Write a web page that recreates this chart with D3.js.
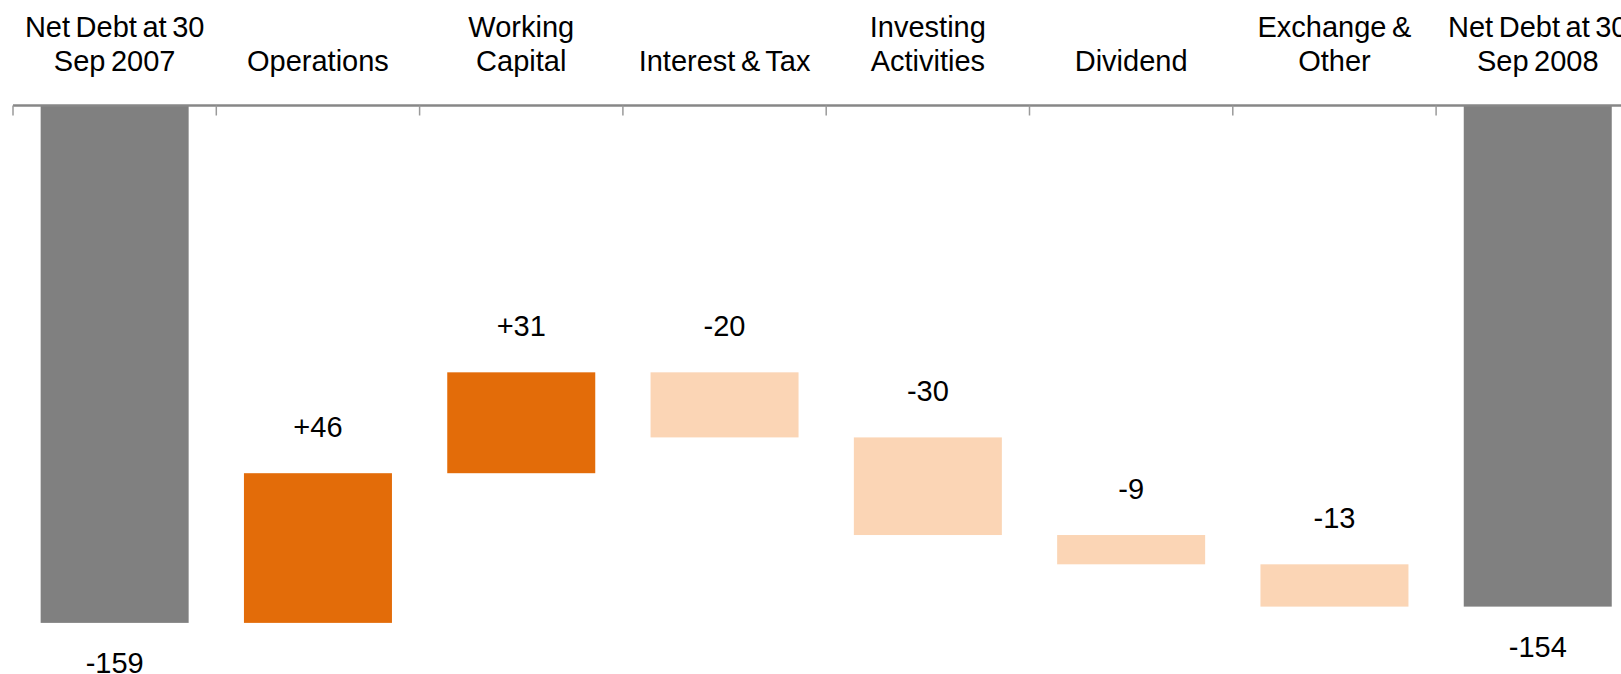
<!DOCTYPE html>
<html>
<head>
<meta charset="utf-8">
<script src="https://cdn.jsdelivr.net/npm/d3@7"></script>
<style>
  html, body { margin: 0; padding: 0; background: #fff; overflow: hidden; }
  svg { display: block; font-family: "Liberation Sans", Arial, sans-serif; }
</style>
</head>
<body>
<svg id="chart" width="1621" height="674"></svg>
<script>
// Net debt bridge, 30 Sep 2007 -> 30 Sep 2008
const categories = [
  ["Net Debt at 30", "Sep 2007"],
  ["Operations"],
  ["Working", "Capital"],
  ["Interest & Tax"],
  ["Investing", "Activities"],
  ["Dividend"],
  ["Exchange &", "Other"],
  ["Net Debt at 30", "Sep 2008"]
];
const kinds   = ["total", "delta", "delta", "delta", "delta", "delta", "delta", "total"];
const values  = [-159, 46, 31, -20, -30, -9, -13, -154];

const colors = { total: "#808080", up: "#E36C09", down: "#FBD5B5" };

const svg = d3.select("#chart");

// running totals give each bar its start and end
let running = 0;
const bars = values.map((v, i) => {
  let y0, y1;
  if (kinds[i] === "total") { y0 = 0; y1 = v; running = v; }
  else { y0 = running; y1 = running + v; running = y1; }
  return { i, v, kind: kinds[i], y0, y1, lines: categories[i] };
});

const x = d3.scaleBand()
  .domain(d3.range(categories.length))
  .range([13, 13 + 8 * 203.3])
  .paddingInner(0.272)
  .paddingOuter(0.136);

const y = d3.scaleLinear()
  .domain([0, -160])
  .range([105.5, 105.5 + 160 * 3.254]);

const step = x.step();
const left = x.range()[0];

// bars
svg.append("g").selectAll("rect")
  .data(bars)
  .enter().append("rect")
  .attr("x", d => x(d.i))
  .attr("width", x.bandwidth())
  .attr("y", d => Math.min(y(d.y0), y(d.y1)))
  .attr("height", d => Math.abs(y(d.y1) - y(d.y0)))
  .attr("fill", d => d.kind === "total" ? colors.total : (d.v > 0 ? colors.up : colors.down));

// category axis along the zero line, ticks between categories
const axis = svg.append("g");
axis.append("line")
  .attr("x1", left).attr("x2", 1621)
  .attr("y1", y(0)).attr("y2", y(0))
  .attr("stroke", "#878787").attr("stroke-width", 2.5);
axis.selectAll("line.tick")
  .data(d3.range(categories.length + 1))
  .enter().append("line")
  .attr("class", "tick")
  .attr("x1", k => left + k * step).attr("x2", k => left + k * step)
  .attr("y1", y(0)).attr("y2", y(0) + 10)
  .attr("stroke", "#9a9a9a").attr("stroke-width", 1.5);

// category names above the axis, bottom-aligned
const catText = svg.append("g").selectAll("text")
  .data(bars)
  .enter().append("text")
  .attr("text-anchor", "middle")
  .attr("font-size", 29)
  .attr("word-spacing", "-2.5px")
  .attr("fill", "#000");
catText.selectAll("tspan")
  .data(d => d.lines.map((t, j) => ({ t, j, n: d.lines.length, cx: x(d.i) + x.bandwidth() / 2 })))
  .enter().append("tspan")
  .attr("x", d => d.cx)
  .attr("y", d => 71 - (d.n - 1 - d.j) * 34.3)
  .text(d => d.t);

// value labels: changes above the bar, totals beneath it
const fmt = v => (v > 0 ? "+" : v < 0 ? "-" : "") + Math.abs(v);
svg.append("g").selectAll("text")
  .data(bars)
  .enter().append("text")
  .attr("text-anchor", "middle")
  .attr("font-size", 29)
  .attr("fill", "#000")
  .attr("x", d => x(d.i) + x.bandwidth() / 2)
  .attr("y", d => d.kind === "total"
    ? y(d.y1) + 50
    : Math.min(y(d.y0), y(d.y1)) - 36)
  .text(d => d.kind === "total" ? String(d.v).replace("\u2212", "-") : fmt(d.v));
</script>
</body>
</html>
